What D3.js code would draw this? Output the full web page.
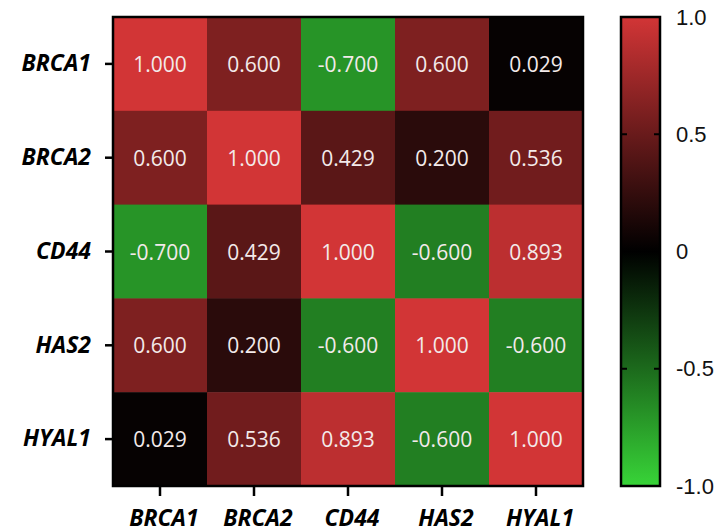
<!DOCTYPE html>
<html><head><meta charset="utf-8">
<script src="https://cdn.jsdelivr.net/npm/d3@7"></script>
<style>html,body{margin:0;padding:0;background:#fff;}</style>
</head><body>
<svg id="chart" width="721" height="532"></svg>
<script>
const genes = ["BRCA1","BRCA2","CD44","HAS2","HYAL1"];
const row_BRCA1 = [1.000, 0.600, -0.700, 0.600, 0.029];
const row_BRCA2 = [0.600, 1.000, 0.429, 0.200, 0.536];
const row_CD44  = [-0.700, 0.429, 1.000, -0.600, 0.893];
const row_HAS2  = [0.600, 0.200, -0.600, 1.000, -0.600];
const row_HYAL1 = [0.029, 0.536, 0.893, -0.600, 1.000];
const rows = [row_BRCA1,row_BRCA2,row_CD44,row_HAS2,row_HYAL1];
const colorDomain = [-1, 0, 1];
const colorRange = ["#38d438", "#000000", "#d23536"];
const legendTicks = [1.0, 0.5, 0, -0.5, -1.0];

const svg = d3.select("#chart");
const L = 113, T = 17, W = 470, H = 469;
const x = d3.scaleBand().domain(genes).range([L, L+W]);
const y = d3.scaleBand().domain(genes).range([T, T+H]);
const color = d3.scaleLinear().domain(colorDomain).range(colorRange);
const hy = s => s.replace("\u2212","-");

const cells = [];
rows.forEach((r,i)=>r.forEach((v,j)=>cells.push({row:genes[i],col:genes[j],v})));

svg.append("g").selectAll("rect").data(cells).join("rect")
  .attr("x",d=>x(d.col)).attr("y",d=>y(d.row))
  .attr("width",x.bandwidth()+0.5).attr("height",y.bandwidth()+0.5)
  .attr("fill",d=>color(d.v));

svg.append("g").selectAll("text").data(cells).join("text")
  .attr("x",d=>x(d.col)+x.bandwidth()/2).attr("y",d=>y(d.row)+y.bandwidth()/2)
  .attr("text-anchor","middle").attr("dominant-baseline","central")
  .attr("font-family","'Open Sans', sans-serif").attr("font-size",21)
  .attr("fill","#f3eaea")
  .text(d=>hy(d3.format(".3f")(d.v)));

svg.append("rect").attr("x",L).attr("y",T).attr("width",W).attr("height",H)
  .attr("fill","none").attr("stroke","#000").attr("stroke-width",2.5);

// axes
const yAxis = svg.append("g").attr("transform",`translate(${L-1},0)`)
  .call(d3.axisLeft(y).tickSize(7).tickPadding(14));
const xAxis = svg.append("g").attr("transform",`translate(0,${T+H+1})`)
  .call(d3.axisBottom(x).tickSize(9).tickPadding(14));
[yAxis,xAxis].forEach(a=>{
  a.select(".domain").remove();
  a.selectAll("line").attr("stroke","#000").attr("stroke-width",2.5);
  a.selectAll("text").attr("font-family","'Open Sans', sans-serif")
   .attr("font-size",23).attr("font-weight","bold").attr("font-style","italic").attr("fill","#000");
});
xAxis.selectAll("text").attr("dx",4);

// colorbar
const CL = 621, CW = 39;
const cy = d3.scaleLinear().domain([-1,1]).range([T+H, T]);
const defs = svg.append("defs");
const grad = defs.append("linearGradient").attr("id","cb").attr("x1",0).attr("y1",1).attr("x2",0).attr("y2",0);
colorDomain.forEach((v)=>grad.append("stop").attr("offset",(v+1)/2).attr("stop-color",color(v)));
svg.append("rect").attr("x",CL).attr("y",T).attr("width",CW).attr("height",H)
  .attr("fill","url(#cb)").attr("stroke","#000").attr("stroke-width",2.5);
const cbt = svg.append("g");
legendTicks.filter(v=>Math.abs(v)===0.5).forEach(v=>{
  cbt.append("line").attr("x1",CL).attr("x2",CL+6).attr("y1",cy(v)).attr("y2",cy(v)).attr("stroke","#000").attr("stroke-width",2);
  cbt.append("line").attr("x1",CL+CW-6).attr("x2",CL+CW).attr("y1",cy(v)).attr("y2",cy(v)).attr("stroke","#000").attr("stroke-width",2);
});
cbt.selectAll("text").data(legendTicks).join("text")
  .attr("x",CL+CW+16).attr("y",d=>cy(d)).attr("dominant-baseline","central")
  .attr("font-family","'Liberation Sans', Arial, sans-serif").attr("font-size",22).attr("fill","#111")
  .text(d=>d===0?"0":hy(d3.format(".1f")(d)));
</script>
</body></html>
